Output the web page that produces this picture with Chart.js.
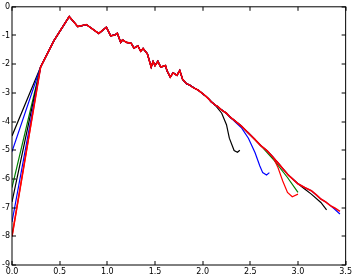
<!DOCTYPE html>
<html>
<head>
<meta charset="utf-8">
<script src="https://cdn.jsdelivr.net/npm/chart.js@4"></script>
<style>
  html, body { margin: 0; padding: 0; background: #fff; }
  #wrap { width: 354px; height: 276px; }
</style>
</head>
<body>
<div id="wrap"><canvas id="chart" width="354" height="276"></canvas></div>
<script>
// shared curve (all runs follow it until they branch off)
const commonX = [0.3, 0.44, 0.6, 0.69, 0.78, 0.91, 0.99, 1.035, 1.08, 1.105, 1.14, 1.16, 1.2, 1.25, 1.28, 1.32, 1.35, 1.375,
  1.42, 1.44, 1.46, 1.48, 1.5, 1.53, 1.56, 1.61, 1.625, 1.66, 1.69, 1.73, 1.76, 1.79, 1.83, 1.86, 1.89, 1.92, 1.955, 1.99,
  2.02, 2.06, 2.09, 2.13, 2.16, 2.2, 2.25, 2.29, 2.34, 2.41, 2.48, 2.55, 2.61, 2.68, 2.74, 2.79, 2.84, 2.9, 3.0, 3.07,
  3.14, 3.19, 3.24, 3.29, 3.34, 3.39, 3.44];
const commonY = [-2.1, -1.18, -0.34, -0.69, -0.62, -0.93, -0.71, -1.01, -0.98, -0.92, -1.24, -1.15, -1.24, -1.27, -1.44, -1.36, -1.55, -1.45,
  -1.64, -1.87, -2.1, -1.91, -2.05, -1.9, -2.1, -2.05, -2.22, -2.45, -2.3, -2.39, -2.22, -2.53, -2.68, -2.72, -2.79, -2.85, -2.91, -3.0,
  -3.08, -3.2, -3.31, -3.42, -3.48, -3.6, -3.71, -3.85, -3.98, -4.17, -4.4, -4.63, -4.84, -5.03, -5.25, -5.44, -5.64, -5.87, -6.17, -6.3,
  -6.41, -6.55, -6.7, -6.8, -6.93, -7.02, -7.13];

// one entry per run
const runColors = ["#000000", "#0000ff", "#008000", "#ff0000", "#000000", "#0000ff", "#ff0000"];
const runStartY = [-4.5, -5.05, -6.3, -8.0, -6.8, -7.5, -8.0];
const runBranchX = [2.13, 2.29, 2.61, 2.74, 3.0, 3.34, 3.44];
const runTailX = [
  [2.2, 2.25, 2.28, 2.33, 2.365, 2.39],
  [2.41, 2.48, 2.55, 2.6, 2.63, 2.67, 2.7],
  [2.75, 2.89, 3.0],
  [2.79, 2.84, 2.89, 2.94, 3.0],
  [3.07, 3.14, 3.24, 3.3],
  [3.38, 3.44],
  []
];
const runTailY = [
  [-3.71, -4.11, -4.58, -5.01, -5.07, -5.0],
  [-4.23, -4.58, -5.09, -5.55, -5.78, -5.86, -5.78],
  [-5.35, -5.95, -6.47],
  [-5.6, -6.07, -6.47, -6.62, -6.53],
  [-6.35, -6.53, -6.82, -7.08],
  [-7.04, -7.22],
  []
];

const xTicks = [0, 0.5, 1, 1.5, 2, 2.5, 3, 3.5];
const yTicks = [0, -1, -2, -3, -4, -5, -6, -7, -8, -9];

function runData(i) {
  const pts = [{ x: 0, y: runStartY[i] }];
  commonX.forEach((x, k) => {
    if (x <= runBranchX[i] + 1e-9) pts.push({ x: x, y: commonY[k] });
  });
  runTailX[i].forEach((x, k) => pts.push({ x: x, y: runTailY[i][k] }));
  return pts;
}

const datasets = runColors.map((c, i) => ({
  data: runData(i),
  borderColor: c,
  borderWidth: i === runColors.length - 1 ? 1.6 : 1.2,
  pointRadius: 0,
  tension: 0,
  fill: false,
  order: runColors.length - i
}));

// matplotlib-style box with inward ticks on all four sides
const frame = {
  id: "frame",
  afterDraw(chart) {
    const { ctx, chartArea: a, scales } = chart;
    ctx.save();
    ctx.strokeStyle = "#000";
    ctx.lineWidth = 1;
    ctx.strokeRect(a.left, a.top, a.right - a.left, a.bottom - a.top);
    ctx.beginPath();
    xTicks.forEach(v => {
      const px = Math.round(scales.x.getPixelForValue(v));
      ctx.moveTo(px, a.bottom); ctx.lineTo(px, a.bottom - 4);
      ctx.moveTo(px, a.top); ctx.lineTo(px, a.top + 4);
    });
    yTicks.forEach(v => {
      const py = Math.round(scales.y.getPixelForValue(v));
      ctx.moveTo(a.left, py); ctx.lineTo(a.left + 4, py);
      ctx.moveTo(a.right, py); ctx.lineTo(a.right - 4, py);
    });
    ctx.stroke();
    ctx.restore();
  }
};

new Chart(document.getElementById("chart"), {
  type: "line",
  data: { datasets: datasets },
  options: {
    responsive: false,
    animation: false,
    layout: { padding: { top: 4, right: 6, left: 0, bottom: 0 } },
    plugins: { legend: { display: false }, tooltip: { enabled: false } },
    scales: {
      x: {
        type: "linear",
        min: 0,
        max: 3.5,
        afterBuildTicks: s => { s.ticks = xTicks.map(v => ({ value: v })); },
        afterFit: s => { s.height = 11; },
        grid: { display: false, drawTicks: false },
        border: { display: false },
        ticks: {
          padding: 2,
          maxRotation: 0,
          autoSkip: false,
          color: "#000",
          font: { family: "DejaVu Sans", size: 8 },
          callback: v => v.toFixed(1)
        }
      },
      y: {
        type: "linear",
        min: -9,
        max: 0,
        afterBuildTicks: s => { s.ticks = yTicks.map(v => ({ value: v })); },
        afterFit: s => { s.width = 12; },
        grid: { display: false, drawTicks: false },
        border: { display: false },
        ticks: {
          padding: 2,
          autoSkip: false,
          color: "#000",
          font: { family: "DejaVu Sans", size: 8 },
          callback: v => String(v)
        }
      }
    }
  },
  plugins: [frame]
});
</script>
</body>
</html>
